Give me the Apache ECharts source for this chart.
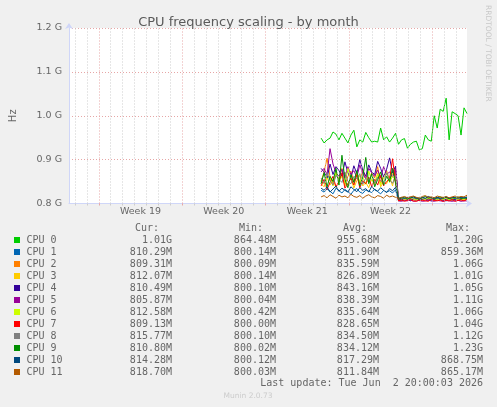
<!DOCTYPE html>
<html><head><meta charset="utf-8">
<script src="https://cdn.jsdelivr.net/npm/echarts@6/dist/echarts.min.js"></script>
<style>html,body{margin:0;padding:0;background:#f0f0f0;}#c{width:497px;height:407px;}</style>
</head><body><div id="c"></div><script>
// x positions: hours since the start of the 33-day window
const hours = [508,514,520,526,532,538,544,550,556,562,568,574,580,586,592,598,604,610,616,622,628,634,640,646,652,658,664,670,676,682,688,694,700,706,712,718,724,730,736,742,748,754,760,766,772,778,784,790,796,802];
const weekLines = [60,228,396,564,732];
const dayLines = [12,36,84,108,132,156,180,204,252,276,300,324,348,372,420,444,468,492,516,540,588,612,636,660,684,708,756,780];
const weekLabelHours = [144,312,480,648];
const weekLabels = ['Week 19','Week 20','Week 21','Week 22'];

const names = ['CPU 0','CPU 1','CPU 2','CPU 3','CPU 4','CPU 5','CPU 6','CPU 7','CPU 8','CPU 9','CPU 10','CPU 11'];
const colors = ['#00cc00','#0066b3','#ff8000','#ffcc00','#330099','#990099','#ccff00','#ff0000','#808080','#008f00','#00487d','#b35a00'];

// values in MHz
const cpu0 = [949,938,945,949,963,958,945,960,949,938,956,967,929,945,940,962,950,940,942,940,972,945,952,940,949,960,935,945,948,926,935,940,942,922,925,956,945,942,1000,972,1015,1010,1040,945,1009,1005,1000,956,1018,1005];
const cpu1 = [830,826,833,828,822,835,829,824,832,827,821,830,834,826,823,831,828,825,833,827,822,830,826,829,824,831,806,808,807,809,806,810,808,807,809,811,808,806,809,807,810,808,806,809,811,808,807,809,808,810];
const cpu2 = [850,872,903,860,845,868,855,880,842,862,874,850,866,845,878,856,848,870,858,884,846,862,875,852,868,880,809,807,810,808,812,809,807,811,809,808,810,812,808,807,809,811,810,808,809,812,808,810,809,809];
const cpu3 = [845,838,860,842,855,836,850,868,840,846,858,835,852,864,840,848,836,856,842,870,838,850,845,862,840,872,808,810,807,809,811,808,810,806,809,812,808,810,807,809,811,808,810,809,807,811,809,808,810,812];
const cpu4 = [880,872,858,890,866,884,875,862,895,870,858,886,868,900,876,862,888,872,866,896,880,860,878,904,870,885,810,808,811,809,807,810,812,808,809,811,807,810,808,812,809,807,810,811,808,809,807,810,812,810];
const cpu5 = [872,880,866,925,890,870,862,878,858,884,866,875,860,888,868,856,880,870,862,876,858,884,866,872,860,878,806,805,807,806,808,805,806,807,805,806,808,806,805,807,806,805,807,806,805,806,807,805,806,806];
const cpu6 = [852,845,866,858,840,872,850,862,846,880,855,842,868,850,860,844,874,852,848,866,842,858,870,848,862,855,810,812,809,811,813,810,808,812,811,809,813,810,812,808,811,810,813,809,811,812,810,811,809,813];
const cpu7 = [840,855,832,848,862,838,850,870,835,845,858,842,866,836,852,845,860,838,855,842,864,840,850,856,902,848,806,808,805,807,809,806,805,808,807,806,805,809,807,806,808,805,807,806,809,805,807,808,806,809];
const cpu8 = [858,846,870,852,842,864,855,848,872,850,845,862,856,868,844,858,850,866,846,860,852,848,870,854,846,862,812,814,811,813,815,812,810,814,813,811,815,812,814,810,813,812,815,811,813,814,812,813,811,816];
const cpu9 = [845,870,838,862,850,880,842,910,855,836,866,848,875,840,860,905,845,868,838,855,872,842,862,850,880,846,810,812,814,811,813,815,812,810,813,816,812,814,811,813,815,812,814,811,813,812,815,811,813,811];
const cpu10 = [835,830,838,826,833,840,828,835,830,826,838,832,827,836,830,834,826,839,831,828,836,830,825,834,829,837,811,813,812,814,812,815,813,811,814,812,816,813,812,814,811,813,815,812,814,813,812,814,813,814];
const cpu11 = [815,818,813,820,816,812,819,815,817,813,821,816,814,818,812,817,820,815,813,818,816,812,819,815,817,814,812,814,816,813,815,817,814,812,816,818,814,815,813,817,815,814,816,813,815,817,814,816,815,819];

const curVals = ['1.01G','810.29M','809.31M','812.07M','810.49M','805.87M','812.58M','809.13M','815.77M','810.80M','814.28M','818.70M'];
const minVals = ['864.48M','800.14M','800.09M','800.14M','800.10M','800.04M','800.42M','800.00M','800.10M','800.02M','800.12M','800.03M'];
const avgVals = ['955.68M','811.90M','835.59M','826.89M','843.16M','838.39M','835.64M','828.65M','834.50M','834.12M','817.29M','811.84M'];
const maxVals = ['1.20G','859.36M','1.06G','1.01G','1.05G','1.11G','1.06G','1.04G','1.12G','1.23G','868.75M','865.17M'];
const headers = ['Cur:','Min:','Avg:','Max:'];
const lastUpdate = 'Last update: Tue Jun  2 20:00:03 2026';

const allValues = [cpu0,cpu1,cpu2,cpu3,cpu4,cpu5,cpu6,cpu7,cpu8,cpu9,cpu10,cpu11];

const axisColor = '#cfd6f8';
const majorGrid = '#e6a6a6';
const minorGrid = '#cdcdcd';
const fontColor = '#666666';
const sans = 'DejaVu Sans';
const mono = 'DejaVu Sans Mono';

function gridLineSeries(values, color) {
  return {
    type: 'line', data: [], silent: true, z: 1, xAxisIndex: 0, yAxisIndex: 0,
    markLine: {
      silent: true, animation: false, symbol: ['none', 'none'], label: { show: false },
      lineStyle: { color: color, width: 1, type: [1, 2] },
      emphasis: { disabled: true },
      data: values.map(h => ({ xAxis: h }))
    }
  };
}

const series = [gridLineSeries(dayLines, minorGrid), gridLineSeries(weekLines, majorGrid)].concat(
  allValues.map((vals, k) => ({
    type: 'line',
    name: names[k],
    z: 2,
    data: hours.map((h, i) => [h, vals[i]]),
    showSymbol: false,
    symbol: 'none',
    silent: true,
    lineStyle: { width: 1, color: colors[k] },
    itemStyle: { color: colors[k] },
    emphasis: { disabled: true }
  }))
);

// legend table
const graphics = [];
const rowY0 = 240, rowH = 12;
const headRight = [159, 263, 367, 470];
const colRight = [172, 276, 379, 483];
const cols = [curVals, minVals, avgVals, maxVals];
function txt(text, x, y, align, font, fill) {
  return { type: 'text', x: x, y: y, silent: true,
    style: { text: text, font: font, fill: fill, align: align, textAlign: align, verticalAlign: 'middle', textVerticalAlign: 'middle' } };
}
headers.forEach((h, j) => graphics.push(txt(h, headRight[j], 228, 'right', '10px ' + mono, fontColor)));
names.forEach((n, i) => {
  const y = rowY0 + i * rowH;
  graphics.push({ type: 'rect', silent: true, shape: { x: 14, y: y - 3, width: 6, height: 6 }, style: { fill: colors[i] } });
  graphics.push(txt(n, 26.5, y, 'left', '10px ' + mono, fontColor));
  cols.forEach((c, j) => graphics.push(txt(c[i], colRight[j], y, 'right', '10px ' + mono, fontColor)));
});
graphics.push(txt(lastUpdate, 483, 383.5, 'right', '10px ' + mono, fontColor));
graphics.push(txt('Munin 2.0.73', 248, 396, 'center', '7.5px ' + sans, '#cccccc'));
graphics.push({ type: 'text', x: 488, y: 5, rotation: -Math.PI / 2, silent: true,
  style: { text: 'RRDTOOL / TOBI OETIKER', font: '7.5px ' + sans, fill: '#c8c8c8', align: 'left', textAlign: 'left', verticalAlign: 'middle', textVerticalAlign: 'middle' } });

const option = {
  backgroundColor: '#f0f0f0',
  animation: false,
  title: {
    text: 'CPU frequency scaling - by month', left: 'center', top: 11,
    textStyle: { fontFamily: sans, fontSize: 13, fontWeight: 'normal', color: '#5a5a5a' }
  },
  legend: { show: false },
  tooltip: { show: false },
  grid: { left: 66, right: 30, top: 28, bottom: 203.5, show: true, backgroundColor: '#ffffff', borderWidth: 0 },
  xAxis: [
    {
      type: 'value', min: 0, max: 802, position: 'bottom',
      axisLine: { show: true, lineStyle: { color: axisColor, width: 1 }, symbol: ['none', 'arrow'], symbolSize: [6, 6], symbolOffset: [0, 5] },
      axisTick: { show: true, customValues: weekLines, length: 2, lineStyle: { color: majorGrid } },
      axisLabel: {
        customValues: weekLabelHours, margin: 3, fontFamily: sans, fontSize: 9.5, color: fontColor,
        formatter: v => weekLabels[weekLabelHours.indexOf(v)] || ''
      },
      splitLine: { show: false },
      z: 3
    },
    {
      type: 'value', min: 0, max: 802, position: 'bottom',
      axisLine: { show: false },
      axisTick: { show: true, customValues: dayLines, length: 2, lineStyle: { color: minorGrid } },
      axisLabel: { show: false },
      splitLine: { show: false }
    }
  ],
  yAxis: {
    type: 'value', min: 800, max: 1200, interval: 100,
    name: 'Hz', nameLocation: 'middle', nameGap: 51, nameRotate: 90,
    nameTextStyle: { fontFamily: sans, fontSize: 10, color: fontColor },
    axisLine: { show: true, lineStyle: { color: axisColor, width: 1 }, symbol: ['none', 'arrow'], symbolSize: [6, 6], symbolOffset: [0, 5] },
    axisTick: { show: false },
    axisLabel: { margin: 7, fontFamily: sans, fontSize: 9.5, color: fontColor, formatter: v => (v / 1000).toFixed(1) + ' G' },
    splitLine: { show: true, lineStyle: { color: majorGrid, width: 1, type: [1, 2] } }
  },
  graphic: graphics,
  series: series
};
const chart = echarts.init(document.getElementById('c'));
chart.setOption(option);
</script></body></html>
